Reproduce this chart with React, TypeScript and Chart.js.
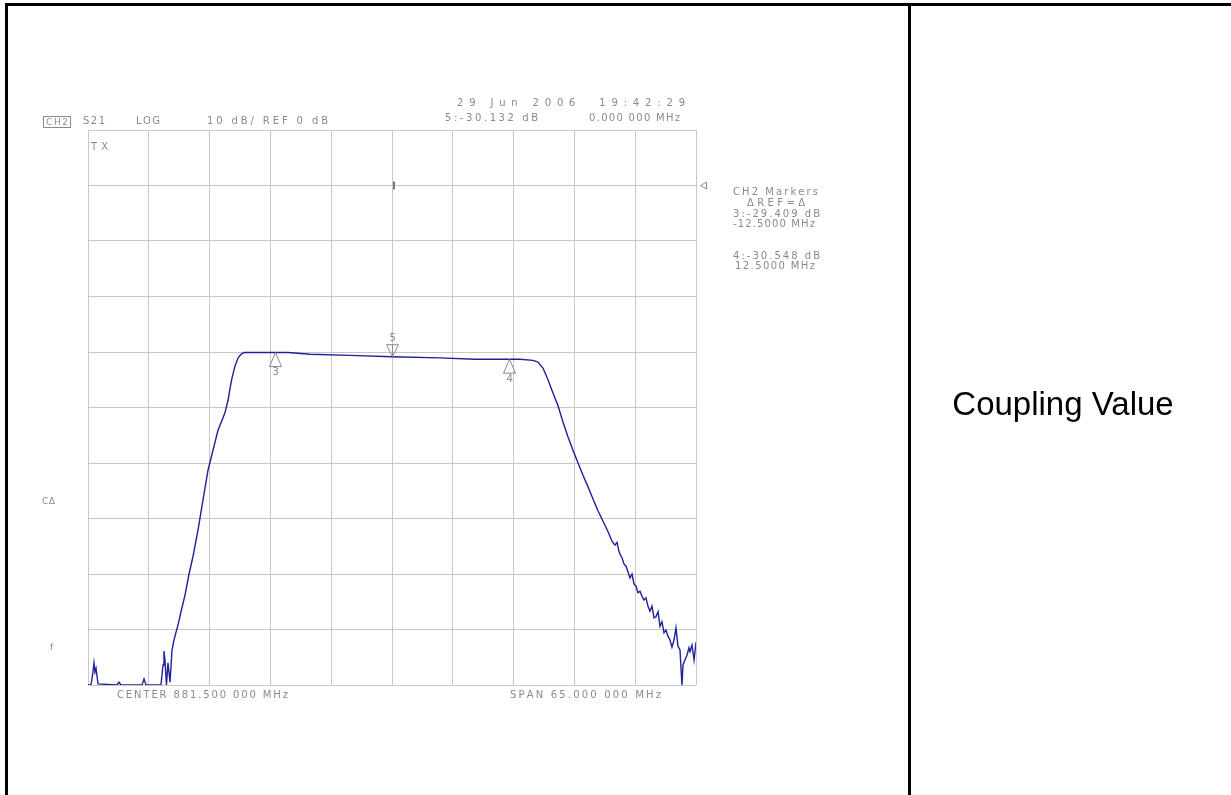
import React, { useEffect, useRef } from "react";
import { Chart, registerables } from "chart.js";

Chart.register(...registerables);

// ---- data ----
// Stimulus: CENTER 881.5 MHz, SPAN 65 MHz  -> 849 .. 914 MHz
// Response: S21 LOG 10 dB/div, REF 0 dB    -> +10 .. -90 dB
const freqMHz = [
  849.0, 849.32, 849.53, 849.64, 849.75, 849.86, 850.07, 852.1, 852.31, 852.53,
  854.77, 854.99, 855.2, 856.8, 857.02, 857.12, 857.23, 857.39, 857.55, 857.66,
  857.77, 857.98, 858.19, 858.41, 858.62, 858.94, 859.37, 859.8, 860.23, 860.76,
  861.29, 861.83, 862.36, 862.9, 863.33, 863.65, 863.97, 864.18, 864.39, 864.72,
  865.04, 865.36, 865.68, 867.39, 870.38, 872.73, 877.01, 881.5, 886.63, 890.37,
  895.19, 896.57, 897.11, 897.64, 898.18, 898.71, 899.25, 899.78, 900.32, 900.85,
  901.39, 901.92, 902.46, 902.99, 903.52, 904.06, 904.6, 905.02, 905.34, 905.56,
  905.77, 906.09, 906.3, 906.52, 906.73, 906.94, 907.16, 907.37, 907.59, 907.8,
  908.01, 908.23, 908.44, 908.65, 908.87, 909.08, 909.29, 909.51, 909.72, 909.94,
  910.15, 910.36, 910.58, 910.79, 911.0, 911.22, 911.43, 911.65, 911.86, 912.07,
  912.29, 912.5, 912.61, 912.82, 913.04, 913.25, 913.36, 913.57, 913.79, 914.0,
];
const levelDb = [
  -90, -90, -87.7, -86.0, -87.7, -87.0, -89.8, -90, -89.5, -90,
  -90, -88.9, -90, -90, -86.4, -83.9, -85.5, -90, -86.0, -87.7,
  -89.5, -83.7, -81.9, -80.5, -79.2, -76.8, -73.8, -70.0, -66.8, -62.1,
  -56.7, -51.3, -47.7, -44.1, -42.3, -40.9, -38.7, -36.6, -34.7, -32.5,
  -31.1, -30.4, -30.1, -30.1, -30.1, -30.4, -30.6, -30.85, -31.05, -31.3,
  -31.3, -31.5, -31.8, -32.9, -35.0, -37.4, -39.7, -42.6, -45.3, -47.7,
  -50.0, -52.2, -54.3, -56.5, -58.6, -60.5, -62.4, -64.1, -64.8, -64.3,
  -66.0, -67.1, -68.2, -68.6, -69.6, -70.7, -70.0, -71.8, -72.2, -73.4,
  -73.1, -74.0, -74.7, -74.3, -75.8, -76.7, -75.8, -77.9, -77.7, -76.8,
  -79.4, -78.6, -80.6, -80.1, -81.2, -81.9, -83.2, -81.9, -79.7, -83.0,
  -83.7, -90, -86.4, -85.5, -84.6, -83.3, -84.0, -82.8, -85.5, -82.3,
];

const centerMHz = 881.5;
const spanMHz = 65;
const xGridMHz = [849, 855.5, 862, 868.5, 875, 881.5, 888, 894.5, 901, 907.5, 914];
const yGridDb = [10, 0, -10, -20, -30, -40, -50, -60, -70, -80, -90];
const refLevelDb = 0;

const markerNames = ["3", "4", "5"];
const markerFreqs = [869.0, 894.0, 881.5];
const markerLevels = [-30.1, -31.3, -30.85];

const headerTexts = ["CH2", "S21", "LOG", "10 dB/ REF 0 dB"];
const dateText = "29 Jun 2006  19:42:29";
const activeMarkerText = ["5:-30.132 dB", "0.000 000 MHz"];
const markerListText = ["CH2 Markers", "\u0394REF=\u0394", "3:-29.409 dB", "-12.5000 MHz", "4:-30.548 dB", "12.5000 MHz"];
const footerTexts = ["CENTER 881.500 000 MHz", "SPAN 65.000 000 MHz"];
const sideTexts = ["TX", "C\u0394", "f"];
const cellText = "Coupling Value";

const GRAY = "#8a8a8a";

function spaced(ctx: CanvasRenderingContext2D, text: string, x0: number, x1: number, yc: number, size = 10) {
  ctx.font = `${size}px "DejaVu Sans"`;
  const chars = Array.from(text);
  const widths = chars.map((c) => ctx.measureText(c).width);
  const total = widths.reduce((a, b) => a + b, 0);
  const gap = chars.length > 1 ? (x1 - x0 - total) / (chars.length - 1) : 0;
  let x = x0;
  ctx.textBaseline = "middle";
  ctx.textAlign = "left";
  chars.forEach((c, i) => {
    ctx.fillText(c, x, yc);
    x += widths[i] + gap;
  });
}

const annotationPlugin = {
  id: "analyzerAnnotations",
  afterDatasetsDraw(chart: any) {
    const ctx: CanvasRenderingContext2D = chart.ctx;
    const xs = chart.scales.x;
    const ys = chart.scales.y;
    ctx.save();
    ctx.fillStyle = GRAY;
    ctx.strokeStyle = GRAY;
    ctx.lineWidth = 1;

    // header
    ctx.strokeRect(43.5, 116.5, 27, 11);
    spaced(ctx, headerTexts[0], 46, 68, 122.5, 9);
    spaced(ctx, headerTexts[1], 83, 105, 121.5);
    spaced(ctx, headerTexts[2], 136, 160, 121.5);
    spaced(ctx, headerTexts[3], 207, 328, 121.5);
    spaced(ctx, dateText, 457, 685, 103.5);
    spaced(ctx, activeMarkerText[0], 445, 538, 118.5);
    spaced(ctx, activeMarkerText[1], 589, 680, 118.5);

    // right-hand marker list
    spaced(ctx, markerListText[0], 733, 818, 192.5);
    spaced(ctx, markerListText[1], 747, 805, 203);
    spaced(ctx, markerListText[2], 733, 820, 214);
    spaced(ctx, markerListText[3], 733, 815, 224.5);
    spaced(ctx, markerListText[4], 733, 820, 256.5);
    spaced(ctx, markerListText[5], 735, 815, 266.5);

    // footer
    spaced(ctx, footerTexts[0], 117, 288, 695.5);
    spaced(ctx, footerTexts[1], 510, 661, 695.5);

    // side labels
    spaced(ctx, sideTexts[0], 91, 108, 147.5);
    spaced(ctx, sideTexts[1], 42, 55, 502, 9);
    spaced(ctx, sideTexts[2], 50, 54, 647.5, 9);

    // reference level pointer
    const yRef = ys.getPixelForValue(refLevelDb);
    ctx.beginPath();
    ctx.moveTo(706.5, yRef - 3.5);
    ctx.lineTo(700.5, yRef);
    ctx.lineTo(706.5, yRef + 3.5);
    ctx.closePath();
    ctx.stroke();

    // stimulus marker tick at centre
    const xc = xs.getPixelForValue(centerMHz);
    ctx.fillStyle = "#777";
    ctx.fillRect(Math.round(xc) + 1, yRef - 4, 2, 8);
    ctx.fillStyle = GRAY;

    // markers
    markerFreqs.forEach((f, i) => {
      const px = Math.round(xs.getPixelForValue(f)) + 0.5;
      const py = ys.getPixelForValue(markerLevels[i]);
      ctx.beginPath();
      if (markerNames[i] === "5") {
        ctx.moveTo(px, py);
        ctx.lineTo(px - 6, py - 12);
        ctx.lineTo(px + 6, py - 12);
        ctx.closePath();
        ctx.stroke();
        ctx.beginPath();
        ctx.moveTo(px, py - 12);
        ctx.lineTo(px, py);
        ctx.stroke();
        spaced(ctx, markerNames[i], px - 3, px + 3, py - 18, 10);
      } else {
        ctx.moveTo(px, py);
        ctx.lineTo(px - 6, py + 14);
        ctx.lineTo(px + 6, py + 14);
        ctx.closePath();
        ctx.stroke();
        spaced(ctx, markerNames[i], px - 3, px + 3, py + 20, 10);
      }
    });
    ctx.restore();
  },
};

export default function App() {
  const canvasRef = useRef<HTMLCanvasElement | null>(null);

  useEffect(() => {
    const canvas = canvasRef.current;
    if (!canvas) return;
    const gridStyle = { color: "#c8c8c8", lineWidth: 1, drawTicks: false };
    const chart = new Chart(canvas, {
      type: "line",
      data: {
        datasets: [
          {
            data: freqMHz.map((f, i) => ({ x: f, y: levelDb[i] })),
            borderColor: "#20209a",
            borderWidth: 1.4,
            pointRadius: 0,
            tension: 0,
            fill: false,
          },
        ],
      },
      options: {
        responsive: false,
        animation: false,
        devicePixelRatio: 1,
        layout: { padding: { left: 88, top: 130, right: 1231 - 696, bottom: 795 - 685 } },
        plugins: { legend: { display: false }, tooltip: { enabled: false } },
        scales: {
          x: {
            type: "linear",
            min: centerMHz - spanMHz / 2,
            max: centerMHz + spanMHz / 2,
            ticks: { display: false },
            grid: gridStyle,
            border: { display: false },
            afterBuildTicks: (s: any) => {
              s.ticks = xGridMHz.map((v) => ({ value: v }));
            },
            afterFit: (s: any) => {
              s.height = 0;
            },
          },
          y: {
            type: "linear",
            min: -90,
            max: 10,
            ticks: { display: false },
            grid: gridStyle,
            border: { display: false },
            afterBuildTicks: (s: any) => {
              s.ticks = yGridDb.map((v) => ({ value: v }));
            },
            afterFit: (s: any) => {
              s.width = 0;
            },
          },
        },
      } as any,
      plugins: [annotationPlugin],
    });
    return () => chart.destroy();
  }, []);

  return (
    <div style={{ position: "fixed", left: 0, top: 0, width: 1231, height: 795, background: "#fff", overflow: "hidden" }}>
      <canvas ref={canvasRef} width={1231} height={795} style={{ position: "absolute", left: 0, top: 0, width: 1231, height: 795 }} />
      <div style={{ position: "absolute", left: 5, top: 3, width: 1226, height: 3, background: "#000" }} />
      <div style={{ position: "absolute", left: 5, top: 3, width: 3, height: 792, background: "#000" }} />
      <div style={{ position: "absolute", left: 908, top: 3, width: 3, height: 792, background: "#000" }} />
      <div
        style={{
          position: "absolute",
          left: 903,
          top: 380,
          width: 320,
          textAlign: "center",
          fontFamily: "Arial, 'Liberation Sans', sans-serif",
          fontSize: 33,
          lineHeight: "48px",
          color: "#000",
        }}
      >
        {cellText}
      </div>
    </div>
  );
}
